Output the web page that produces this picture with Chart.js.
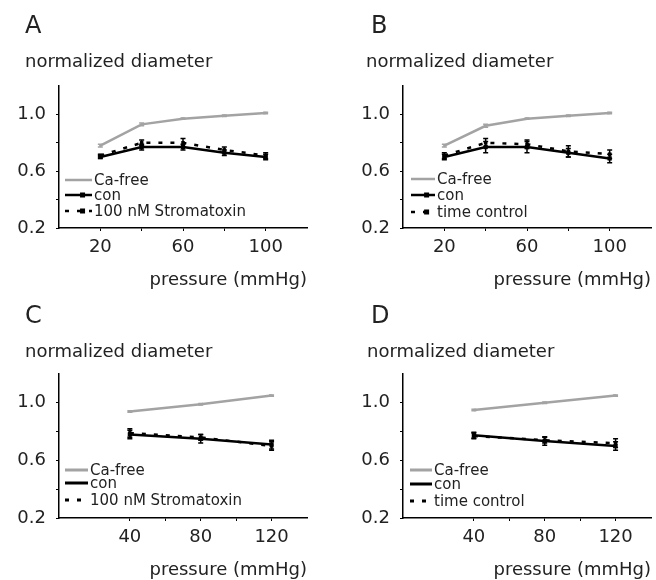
<!DOCTYPE html>
<html>
<head>
<meta charset="utf-8">
<script src="https://cdn.jsdelivr.net/npm/chart.js@4.4.1/dist/chart.umd.min.js"></script>
<style>
  body { margin: 0; background: #fff; }
  #wrap { position: relative; width: 656px; height: 580px; }
  canvas { position: absolute; }
</style>
</head>
<body>
<div id="wrap">
  <canvas id="chartA" width="328" height="290" style="left:0;top:0"></canvas>
  <canvas id="chartB" width="328" height="290" style="left:328px;top:0"></canvas>
  <canvas id="chartC" width="328" height="290" style="left:0;top:290px"></canvas>
  <canvas id="chartD" width="328" height="290" style="left:328px;top:290px"></canvas>
</div>
<script>
// pressure steps (mmHg)
const pressureAB = [20, 40, 60, 80, 100]
const pressureCD = [40, 80, 120]
const xTicksAB = [20, 40, 60, 80, 100]
const xTicksCD = [40, 60, 80, 100, 120]
const xLabelledAB = [20, 60, 100]
const xLabelledCD = [40, 80, 120]
const yTicks = [0.2, 0.4, 0.6, 0.8, 1.0]
const yLabelled = [0.2, 0.6, 1.0]

const labelsStx = ['Ca-free', 'con', '100 nM Stromatoxin']
const labelsTime = ['Ca-free', 'con', 'time control']

// panel A
const caFreeA = [0.78, 0.93, 0.97, 0.99, 1.01]
const conA = [0.70, 0.77, 0.77, 0.73, 0.70]
const stxA = [0.71, 0.80, 0.80, 0.75, 0.71]
const caFreeErrA = [0.01, 0.01, 0.005, 0.005, 0.005]
const conErrA = [0.01, 0.02, 0.02, 0.02, 0.02]
const stxErrA = [0.01, 0.02, 0.03, 0.02, 0.02]

// panel B
const caFreeB = [0.78, 0.92, 0.97, 0.99, 1.01]
const conB = [0.70, 0.77, 0.77, 0.73, 0.69]
const timeB = [0.71, 0.80, 0.79, 0.74, 0.72]
const caFreeErrB = [0.01, 0.01, 0.005, 0.005, 0.005]
const conErrB = [0.02, 0.04, 0.04, 0.03, 0.03]
const timeErrB = [0.02, 0.03, 0.03, 0.04, 0.03]

// panel C
const caFreeC = [0.94, 0.99, 1.05]
const conC = [0.78, 0.75, 0.71]
const stxC = [0.79, 0.76, 0.70]
const caFreeErrC = [0.005, 0.005, 0.005]
const conErrC = [0.03, 0.03, 0.03]
const stxErrC = [0.03, 0.02, 0.03]

// panel D
const caFreeD = [0.95, 1.00, 1.05]
const conD = [0.775, 0.735, 0.70]
const timeD = [0.77, 0.74, 0.72]
const caFreeErrD = [0.005, 0.005, 0.005]
const conErrD = [0.02, 0.03, 0.03]
const timeErrD = [0.02, 0.02, 0.03]

const GRAY = '#a3a3a3'
const INK = '#222'
const FONT = '"DejaVu Sans", Verdana, sans-serif'

const errorBars = {
    id: 'errorBars',
    afterDatasetsDraw(chart) {
        const ctx = chart.ctx
        const yScale = chart.scales.y
        chart.data.datasets.forEach((ds, i) => {
            if (!ds.errors) return
            const meta = chart.getDatasetMeta(i)
            ctx.save()
            ctx.strokeStyle = ds.borderColor
            ctx.lineWidth = 1.5
            ctx.setLineDash([])
            meta.data.forEach((pt, j) => {
                const v = ds.data[j].y
                const top = yScale.getPixelForValue(v + ds.errors[j])
                const bot = yScale.getPixelForValue(v - ds.errors[j])
                ctx.beginPath()
                ctx.moveTo(pt.x, top); ctx.lineTo(pt.x, bot)
                ctx.moveTo(pt.x - 2.5, top); ctx.lineTo(pt.x + 2.5, top)
                ctx.moveTo(pt.x - 2.5, bot); ctx.lineTo(pt.x + 2.5, bot)
                ctx.stroke()
            })
            ctx.restore()
        })
    }
}

const panelText = {
    id: 'panelText',
    afterDraw(chart, args, opts) {
        const ctx = chart.ctx
        ctx.save()
        ctx.fillStyle = INK
        ctx.textBaseline = 'alphabetic'
        ctx.font = '24px ' + FONT
        ctx.fillText(opts.letter, opts.letterX, 33)
        ctx.font = '18px ' + FONT
        ctx.fillText('normalized diameter', opts.subX, 67)
        ctx.font = '15px ' + FONT
        chart.data.datasets.forEach((ds, k) => {
            const by = opts.legY[k]
            const ly = by - 5
            ctx.strokeStyle = ds.borderColor
            ctx.lineWidth = opts.thick ? 3 : ds.borderWidth
            ctx.setLineDash(ds.borderDash || [])
            ctx.beginPath()
            ctx.moveTo(opts.legX, ly)
            ctx.lineTo(opts.legX + opts.legW, ly)
            ctx.stroke()
            if (!opts.thick) {
                ctx.fillStyle = ds.borderColor
                const s = k === 0 ? 2 : 5
                ctx.fillRect(opts.legX + opts.legW * 0.65 - s / 2, ly - s / 2, s, s)
            }
            ctx.fillStyle = INK
            ctx.fillText(ds.label, opts.legX + opts.legW + 2, by)
        })
        ctx.restore()
    }
}

function toPoints(xs, ys) {
    return xs.map((x, i) => ({ x: x, y: ys[i] }))
}

function onlyLabelled(list) {
    return v => list.some(l => Math.abs(l - v) < 1e-6) ? v : ''
}

function makePanel(id, pressure, xMax, xTicks, xLabelled, series, errs, labels, place) {
    const styles = [
        { borderColor: GRAY, borderWidth: 2.5, pointRadius: 1.5, borderDash: [] },
        { borderColor: '#000', borderWidth: 2.5, pointRadius: 3, borderDash: [] },
        { borderColor: '#000', borderWidth: 2.5, pointRadius: 2.5, borderDash: [4, 8] }
    ]
    const datasets = series.map((vals, k) => ({
        label: labels[k],
        data: toPoints(pressure, vals),
        errors: errs[k],
        borderColor: styles[k].borderColor,
        backgroundColor: styles[k].borderColor,
        borderWidth: styles[k].borderWidth,
        borderDash: styles[k].borderDash,
        pointStyle: 'rect',
        pointRadius: styles[k].pointRadius,
        pointBorderWidth: 0,
        tension: 0
    }))

    return new Chart(document.getElementById(id), {
        type: 'line',
        data: { datasets: datasets },
        plugins: [errorBars, panelText],
        options: {
            responsive: false,
            animation: false,
            layout: { padding: { left: 0, right: place.right, top: place.top, bottom: 0 } },
            plugins: {
                legend: { display: false },
                tooltip: { enabled: false },
                panelText: place
            },
            scales: {
                x: {
                    type: 'linear',
                    min: 0,
                    max: xMax,
                    afterBuildTicks: scale => { scale.ticks = xTicks.map(v => ({ value: v })) },
                    afterFit: scale => { scale.height = 62 },
                    grid: { drawOnChartArea: false, drawTicks: true, tickLength: 3, color: '#000' },
                    border: { color: '#000', width: 1.5 },
                    ticks: {
                        color: INK,
                        font: { family: FONT, size: 18 },
                        padding: 6,
                        maxRotation: 0,
                        autoSkip: false,
                        callback: onlyLabelled(xLabelled)
                    },
                    title: {
                        display: true,
                        text: 'pressure (mmHg)',
                        align: 'end',
                        color: INK,
                        font: { family: FONT, size: 18 },
                        padding: { top: 0, bottom: -1 }
                    }
                },
                y: {
                    min: 0.2,
                    max: 1.2,
                    afterBuildTicks: scale => { scale.ticks = yTicks.map(v => ({ value: v })) },
                    afterFit: scale => { scale.width = place.axisLeft },
                    grid: { drawOnChartArea: false, drawTicks: true, tickLength: 3, color: '#000' },
                    border: { color: '#000', width: 1.5 },
                    ticks: {
                        color: INK,
                        font: { family: FONT, size: 18 },
                        padding: 10,
                        callback: v => yLabelled.some(l => Math.abs(l - v) < 1e-6) ? v.toFixed(1) : ''
                    }
                }
            }
        }
    })
}

makePanel('chartA', pressureAB, 120, xTicksAB, xLabelledAB,
    [caFreeA, conA, stxA], [caFreeErrA, conErrA, stxErrA], labelsStx,
    { letter: 'A', letterX: 25, subX: 25, axisLeft: 59, right: 21, top: 86, legX: 65, legW: 27, legY: [185, 200, 216] })

makePanel('chartB', pressureAB, 120, xTicksAB, xLabelledAB,
    [caFreeB, conB, timeB], [caFreeErrB, conErrB, timeErrB], labelsTime,
    { letter: 'B', letterX: 43, subX: 38, axisLeft: 75, right: 5, top: 86, legX: 83, legW: 24, legY: [184, 200, 217] })

makePanel('chartC', pressureCD, 140, xTicksCD, xLabelledCD,
    [caFreeC, conC, stxC], [caFreeErrC, conErrC, stxErrC], labelsStx,
    { letter: 'C', letterX: 25, subX: 25, axisLeft: 59, right: 21, top: 84, legX: 65, legW: 23, legY: [185, 198, 215], thick: true })

makePanel('chartD', pressureCD, 140, xTicksCD, xLabelledCD,
    [caFreeD, conD, timeD], [caFreeErrD, conErrD, timeErrD], labelsTime,
    { letter: 'D', letterX: 43, subX: 39, axisLeft: 75, right: 5, top: 84, legX: 82, legW: 22, legY: [185, 199, 216], thick: true })
</script>
</body>
</html>
